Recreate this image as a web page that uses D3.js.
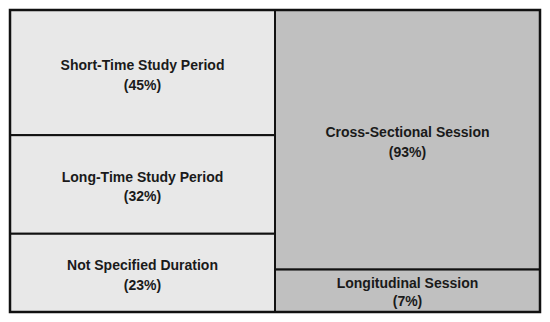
<!DOCTYPE html>
<html>
<head>
<meta charset="utf-8">
<script src="https://cdn.jsdelivr.net/npm/d3@7"></script>
<style>
  html, body { margin: 0; padding: 0; background: #ffffff; }
  svg { display: block; }
</style>
</head>
<body>
<svg id="chart" width="550" height="322"></svg>
<script>
// ---- Data ----
const groups = ["Study Duration", "Session Type"];
const durationLabels = ["Short-Time Study Period", "Long-Time Study Period", "Not Specified Duration"];
const durationValues = [45, 32, 23];
const sessionLabels = ["Cross-Sectional Session", "Longitudinal Session"];
const sessionValues = [93, 7];

// ---- Layout / style ----
const W = 550, H = 322;
const margin = { top: 10, right: 10, bottom: 10, left: 10 };
const fills = { "Study Duration": "#e8e8e8", "Session Type": "#c0c0c0" };

const svg = d3.select("#chart");

const x = d3.scaleBand()
  .domain(groups)
  .range([margin.left, W - margin.right])
  .padding(0);

// visual weight of each cell (compressed so small shares stay legible)
const weight = d3.scalePow().exponent(0.7).domain([0, 100]).range([0, 100]);

const columns = [
  { group: groups[0], labels: durationLabels, values: durationValues },
  { group: groups[1], labels: sessionLabels, values: sessionValues }
];

const cells = [];
columns.forEach(col => {
  const w = col.values.map(v => weight(v));
  const total = d3.sum(w);
  const y = d3.scaleLinear().domain([0, total]).range([margin.top, H - margin.bottom]);
  let acc = 0;
  col.values.forEach((v, i) => {
    cells.push({
      group: col.group,
      label: col.labels[i],
      value: v,
      x0: x(col.group),
      x1: x(col.group) + x.bandwidth(),
      y0: y(acc),
      y1: y(acc + w[i])
    });
    acc += w[i];
  });
});

const g = svg.append("g");

g.selectAll("rect.cell")
  .data(cells)
  .join("rect")
  .attr("class", "cell")
  .attr("x", d => d.x0)
  .attr("y", d => d.y0)
  .attr("width", d => d.x1 - d.x0)
  .attr("height", d => d.y1 - d.y0)
  .attr("fill", d => fills[d.group])
  .attr("stroke", "#111")
  .attr("stroke-width", 2);

const labels = g.selectAll("text.lbl")
  .data(cells)
  .join("text")
  .attr("class", "lbl")
  .attr("text-anchor", "middle")
  .attr("font-family", "'Liberation Sans', Arial, Helvetica, sans-serif")
  .attr("font-weight", "bold")
  .attr("font-size", 14)
  .attr("fill", "#1a1a1a");

labels.append("tspan")
  .attr("x", d => (d.x0 + d.x1) / 2)
  .attr("y", d => (d.y0 + d.y1) / 2 - 2.5)
  .text(d => d.label);

labels.append("tspan")
  .attr("x", d => (d.x0 + d.x1) / 2)
  .attr("y", d => (d.y0 + d.y1) / 2 + (d.y1 - d.y0 < 60 ? 15.5 : 17))
  .text(d => "(" + d.value + "%)");

// outer frame
svg.append("rect")
  .attr("x", margin.left)
  .attr("y", margin.top)
  .attr("width", W - margin.left - margin.right)
  .attr("height", H - margin.top - margin.bottom)
  .attr("fill", "none")
  .attr("stroke", "#111")
  .attr("stroke-width", 2.5);
</script>
</body>
</html>
